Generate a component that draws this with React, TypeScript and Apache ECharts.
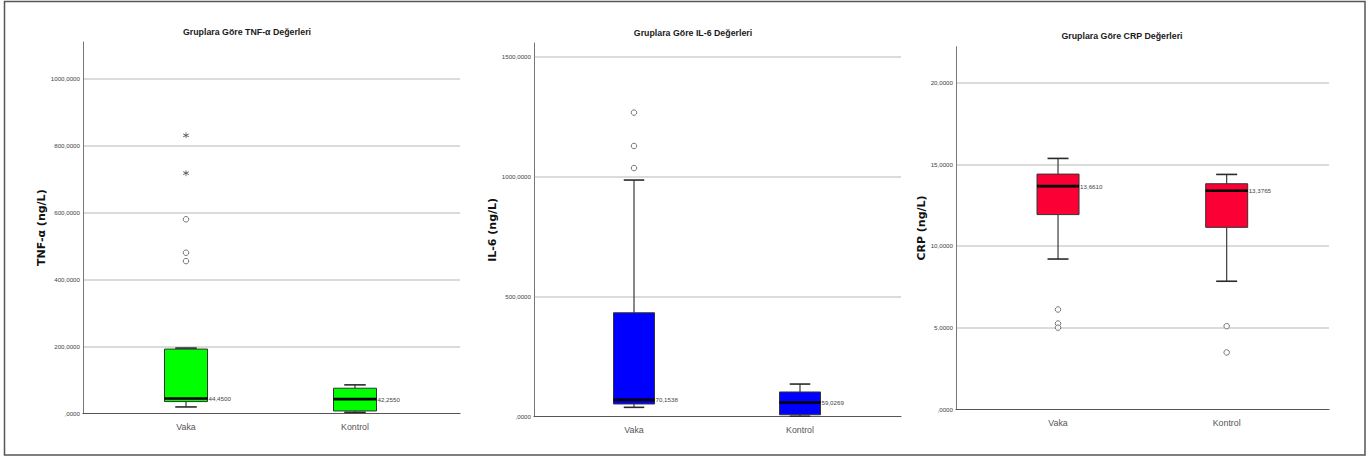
import React, { useEffect, useRef } from "react";
import * as echarts from "echarts";

// ---------- data ----------
const categories = ["Vaka", "Kontrol"];

// [min whisker, Q1, median, Q3, max whisker]
const tnfBoxes = [
  [19, 35, 44.45, 192, 195],
  [3, 7, 42.255, 75, 85],
];
const tnfOutliers = [
  [0, 580],
  [0, 480],
  [0, 455],
];
const tnfExtremes = [
  [0, 831],
  [0, 718],
];

const il6Boxes = [
  [39, 53, 70.1538, 433, 986],
  [2, 8, 59.0269, 103, 136],
];
const il6Outliers = [
  [0, 1267],
  [0, 1128],
  [0, 1036],
];

const crpBoxes = [
  [9.2, 11.92, 13.661, 14.4, 15.36],
  [7.84, 11.14, 13.3765, 13.81, 14.38],
];
const crpOutliers = [
  [0, 6.11],
  [0, 5.25],
  [0, 5.0],
  [1, 5.09],
  [1, 3.48],
];

const titles = [
  "Gruplara Göre TNF-α Değerleri",
  "Gruplara Göre IL-6 Değerleri",
  "Gruplara Göre CRP Değerleri",
];
const axisNames = ["TNF-α (ng/L)", "IL-6 (ng/L)", "CRP (ng/L)"];
const yMax = [1110, 1557, 22.2];
const yInterval = [200, 500, 5];

// ---------- layout / style ----------
const NARROW = "'Liberation Sans Narrow', 'Arial Narrow', 'Liberation Sans', Arial, sans-serif";
const WIDE = "'DejaVu Sans', Verdana, sans-serif";
const panels = [
  { a: { left: 83, top: 42, width: 377, height: 371.3 }, b: { left: 101.5, width: 338 }, titleX: 247, titleY: 32, nameGap: 35, boxW: 43, color: "#00ff00" },
  { a: { left: 534, top: 43, width: 367, height: 373.7 }, b: { left: 551, width: 332 }, titleX: 693, titleY: 33, nameGap: 34, boxW: 41, color: "#0000ff" },
  { a: { left: 956, top: 46.7, width: 373, height: 362.6 }, b: { left: 973.7, width: 337.3 }, titleX: 1122, titleY: 35.5, nameGap: 28, boxW: 42, color: "#fb0035" },
];

const boxesAll = [tnfBoxes, il6Boxes, crpBoxes];
const outliersAll = [tnfOutliers, il6Outliers, crpOutliers];
const extremesAll = [tnfExtremes, [], []];

const fmt = (v: number) => (v === 0 ? ",0000" : v.toFixed(4).replace(".", ","));

const ASTERISK =
  "path://M4.4 0 H5.6 V10 H4.4 Z M0.37 3.02 L0.97 1.98 L9.63 6.98 L9.03 8.02 Z M0.97 8.02 L0.37 6.98 L9.03 1.98 L9.63 3.02 Z";

function makeRender(boxW: number, color: string) {
  return (params: any, api: any) => {
    const cat = api.value(0);
    const lo = api.coord([cat, api.value(1)]);
    const q1 = api.coord([cat, api.value(2)]);
    const md = api.coord([cat, api.value(3)]);
    const q3 = api.coord([cat, api.value(4)]);
    const hi = api.coord([cat, api.value(5)]);
    const cx = md[0];
    const half = boxW / 2;
    const cap = boxW / 4;
    const wStyle = { stroke: "#3a3a3a", lineWidth: 1.2 };
    const cStyle = { stroke: "#2a2a2a", lineWidth: 1.6 };
    return {
      type: "group",
      children: [
        { type: "line", shape: { x1: cx, y1: hi[1], x2: cx, y2: q3[1] }, style: wStyle },
        { type: "line", shape: { x1: cx, y1: q1[1], x2: cx, y2: lo[1] }, style: wStyle },
        { type: "line", shape: { x1: cx - cap, y1: hi[1], x2: cx + cap, y2: hi[1] }, style: cStyle },
        { type: "line", shape: { x1: cx - cap, y1: lo[1], x2: cx + cap, y2: lo[1] }, style: cStyle },
        {
          type: "rect",
          shape: { x: cx - half, y: q3[1], width: boxW, height: q1[1] - q3[1] },
          style: { fill: color, stroke: "#333", lineWidth: 1 },
        },
        {
          type: "line",
          shape: { x1: cx - half, y1: md[1], x2: cx + half, y2: md[1] },
          style: { stroke: "#000", lineWidth: 2.6 },
        },
        {
          type: "text",
          x: cx + half + 1,
          y: md[1],
          style: {
            text: fmt(api.value(3)),
            fontSize: 6.2,
            fontFamily: NARROW,
            fill: "#444",
            align: "left",
            verticalAlign: "middle",
          },
        },
      ],
    };
  };
}

export default function App() {
  const ref = useRef<HTMLDivElement>(null);

  useEffect(() => {
    if (!ref.current) return;
    const chart = echarts.init(ref.current, undefined, { renderer: "svg" });

    const grid: any[] = [];
    const xAxis: any[] = [];
    const yAxis: any[] = [];
    const series: any[] = [];
    const graphic: any[] = [];

    panels.forEach((p, i) => {
      const ga = grid.length;
      grid.push({ left: p.a.left, top: p.a.top, width: p.a.width, height: p.a.height });
      grid.push({ left: p.b.left, top: p.a.top, width: p.b.width, height: p.a.height });
      const gb = ga + 1;

      // grid A: frame axis + gridlines
      xAxis.push({
        gridIndex: ga,
        type: "value",
        min: 0,
        max: 1,
        axisLine: { show: true, lineStyle: { color: "#555", width: 1.2 } },
        axisTick: { show: false },
        axisLabel: { show: false },
        splitLine: { show: false },
      });
      yAxis.push({
        gridIndex: ga,
        type: "value",
        min: 0,
        max: yMax[i],
        interval: yInterval[i],
        name: axisNames[i],
        nameLocation: "middle",
        nameRotate: 90,
        nameGap: p.nameGap,
        nameTextStyle: { fontSize: 11, fontWeight: "bold", color: "#111", fontFamily: WIDE },
        axisLine: { show: true, lineStyle: { color: "#777", width: 1 } },
        axisTick: { show: false },
        axisLabel: {
          fontSize: 6.2,
          fontFamily: NARROW,
          color: "#444",
          margin: 3,
          showMaxLabel: false,
          formatter: (v: number) => fmt(v),
        },
        splitLine: { show: true, showMinLine: false, showMaxLine: false, lineStyle: { color: "#cfcfcf", width: 1.5 } },
      });

      // grid B: categories + boxes
      xAxis.push({
        gridIndex: gb,
        type: "category",
        data: categories,
        axisLine: { show: false },
        axisTick: { show: false },
        axisLabel: { fontSize: 8.8, fontFamily: NARROW, color: "#555", margin: 9 },
        splitLine: { show: false },
      });
      yAxis.push({
        gridIndex: gb,
        type: "value",
        min: 0,
        max: yMax[i],
        show: false,
        splitLine: { show: false },
      });

      series.push({
        type: "custom",
        xAxisIndex: gb,
        yAxisIndex: gb,
        renderItem: makeRender(p.boxW, p.color),
        encode: { x: 0, y: [1, 2, 3, 4, 5] },
        data: boxesAll[i].map((b, k) => [k, ...b]),
        z: 3,
      });
      series.push({
        type: "scatter",
        xAxisIndex: gb,
        yAxisIndex: gb,
        symbol: "circle",
        symbolSize: 5.5,
        itemStyle: { color: "#fff", borderColor: "#555", borderWidth: 1 },
        data: outliersAll[i],
        z: 4,
      });
      if (extremesAll[i].length) {
        series.push({
          type: "scatter",
          xAxisIndex: gb,
          yAxisIndex: gb,
          symbol: ASTERISK,
          symbolSize: 6,
          itemStyle: { color: "#333" },
          data: extremesAll[i],
          z: 4,
        });
      }

      graphic.push({
        type: "text",
        x: p.titleX,
        y: p.titleY,
        style: {
          text: titles[i],
          fontSize: 8.8,
          fontWeight: "bold",
          fontFamily: NARROW,
          fill: "#1a1a1a",
          align: "center",
          verticalAlign: "middle",
        },
      });
    });

    graphic.push({
      type: "rect",
      shape: { x: 4.5, y: 1.5, width: 1360.5, height: 453.5 },
      style: { fill: "none", stroke: "#555", lineWidth: 1.5 },
      silent: true,
    });

    chart.setOption({
      animation: false,
      backgroundColor: "#fff",
      grid,
      xAxis,
      yAxis,
      series,
      graphic,
    });

    return () => chart.dispose();
  }, []);

  return (
    <div
      ref={ref}
      style={{ position: "absolute", left: 0, top: 0, width: 1371, height: 458 }}
    />
  );
}
